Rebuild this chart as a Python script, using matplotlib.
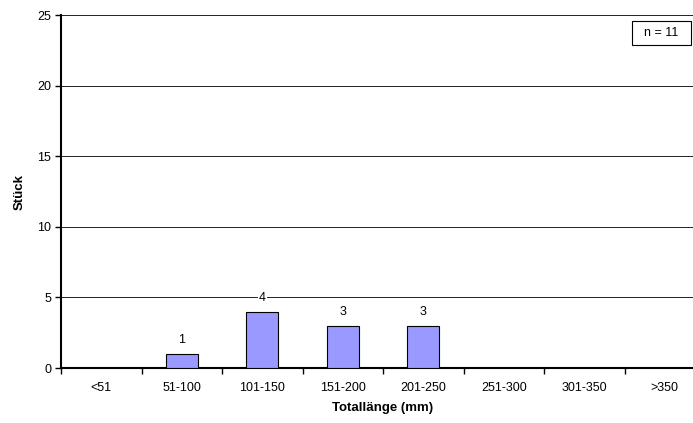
import matplotlib
matplotlib.use("Agg")
import matplotlib.pyplot as plt
from matplotlib.patches import Rectangle
import numpy as np

plt.rcParams['font.family'] = ['Liberation Sans', 'DejaVu Sans']

categories = ["<51", "51-100", "101-150", "151-200", "201-250", "251-300", "301-350", ">350"]
counts = [0, 1, 4, 3, 3, 0, 0, 0]
sample_note = "n = 11"

W, H = 693, 423
fig = plt.figure(figsize=(W / 100, H / 100), dpi=100)
left, right, top, bottom = 61, 705, 15, 368
ax = fig.add_axes([left / W, 1 - bottom / H, (right - left) / W, (bottom - top) / H])

x = np.arange(len(categories))
ax.set_xlim(-0.5, len(categories) - 0.5)
ax.set_ylim(0, 25)

for xi, c in zip(x, counts):
    if c > 0:
        ax.bar(xi, c, width=0.4, color="#9999FF", edgecolor="black", linewidth=0.8, zorder=3)
        ax.annotate(str(c), (xi, c), xytext=(0, 14), textcoords="offset pixels",
                    ha="center", va="center", fontsize=9, zorder=4,
                    bbox=dict(boxstyle="square,pad=0.1", fc="white", ec="none"))

ax.set_yticks([0, 5, 10, 15, 20, 25])
ax.yaxis.grid(True, color="#222222", linewidth=0.7, zorder=0)
ax.set_axisbelow(True)

# category labels sit between boundary ticks
ax.set_xticks(np.arange(len(categories) + 1) - 0.5)
ax.set_xticklabels([])
ax.set_xticks(x, minor=True)
ax.set_xticklabels(categories, minor=True, fontsize=9)
ax.tick_params(axis="x", which="minor", length=0, pad=10)
ax.tick_params(axis="x", which="major", length=4, width=1, direction="out")
ax.tick_params(axis="y", length=4, width=1, direction="out", labelsize=9, pad=3)

for s in ["top", "right"]:
    ax.spines[s].set_visible(False)
ax.spines["left"].set_linewidth(1.5)
ax.spines["bottom"].set_linewidth(1.5)

ax.set_xlabel("Totallänge (mm)", fontsize=9.5, fontweight="bold", labelpad=6)
ax.set_ylabel("Stück", fontsize=9.5, fontweight="bold", labelpad=8)

# sample size box
bx0, bx1, by0, by1 = 632, 691, 21, 45
fig.patches.append(Rectangle((bx0 / W, 1 - by1 / H), (bx1 - bx0) / W, (by1 - by0) / H,
                             transform=fig.transFigure, fc="white", ec="black", lw=0.8))
fig.text((bx0 + bx1) / 2 / W, 1 - (by0 + by1) / 2 / H, sample_note, ha="center", va="center",
         fontsize=9)

fig.savefig("out.png", dpi=100)
